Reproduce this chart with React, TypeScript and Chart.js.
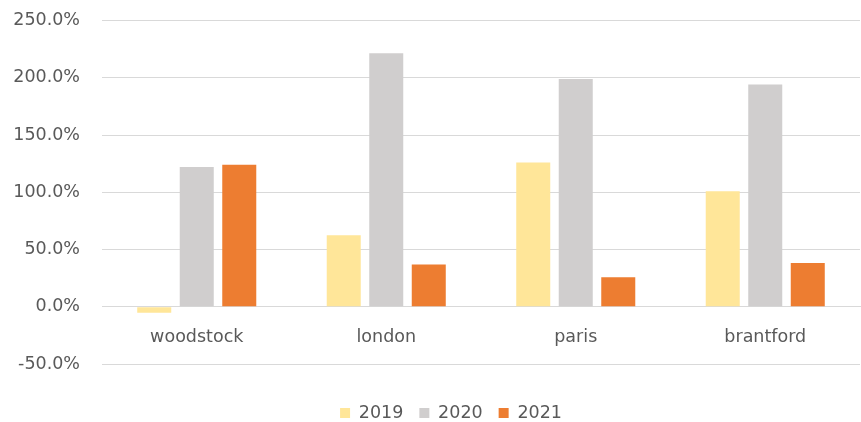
import React, { useEffect, useRef } from "react";
import { Chart, registerables } from "chart.js";

Chart.register(...registerables);

const categories = ["woodstock", "london", "paris", "brantford"];
const seriesNames = ["2019", "2020", "2021"];
const values2019 = [-5.2, 62.4, 126.0, 100.8];
const values2020 = [122.0, 221.5, 199.0, 194.0];
const values2021 = [124.0, 37.0, 25.7, 38.2];
const seriesColors = ["#FFE699", "#D0CECE", "#ED7D31"];

const FONT = "'DejaVu Sans', sans-serif";

const widenYAxis = {
  id: "widenYAxis",
  afterLayout(chart: any) {
    const y = chart.scales.y;
    if (y) y.left = 0;
  },
};

export default function App() {
  const ref = useRef<HTMLCanvasElement | null>(null);

  useEffect(() => {
    if (!ref.current) return;
    const data = [values2019, values2020, values2021];
    const chart = new Chart(ref.current, {
      type: "bar",
      data: {
        labels: categories,
        datasets: seriesNames.map((name, i) => ({
          label: name,
          data: data[i],
          backgroundColor: seriesColors[i],
          borderWidth: 0,
          categoryPercentage: 0.673,
          barPercentage: 0.8,
        })),
      },
      plugins: [widenYAxis],
      options: {
        animation: false,
        responsive: false,
        maintainAspectRatio: false,
        layout: { padding: { top: 20.5, right: 1, bottom: -9.75, left: 42 } },
        plugins: {
          tooltip: { enabled: false },
          legend: {
            position: "bottom",
            title: { display: true, text: "", font: { size: 10 }, padding: { top: 12.25, bottom: 0 } },
            labels: {
              boxWidth: 10,
              boxHeight: 10,
              padding: 16,
              color: "#595959",
              font: { family: FONT, size: 17.5 },
            },
          },
        },
        scales: {
          x: {
            position: { y: 0 } as any,
            grid: { display: false },
            border: { color: "#D9D9D9", width: 1 },
            ticks: {
              color: "#595959",
              font: { family: FONT, size: 17.5 },
              padding: 12,
            },
          },
          y: {
            min: -50,
            max: 250,
            afterFit: (scale: any) => {
              scale.width = 60;
              scale.paddingTop = 0;
              scale.paddingBottom = 0;
            },
            grid: { color: "#D9D9D9", lineWidth: 1, drawTicks: false },
            border: { display: false },
            ticks: {
              stepSize: 50,
              padding: 22,
              color: "#595959",
              font: { family: FONT, size: 17.5 },
              callback: (v: any) => Number(v).toFixed(1) + "%",
            },
          },
        },
      },
    });
    return () => chart.destroy();
  }, []);

  return (
    <div style={{ position: "absolute", left: 0, top: 0, width: 861, height: 422, background: "#fff" }}>
      <canvas ref={ref} width={861} height={422} style={{ width: 861, height: 422 }} />
    </div>
  );
}
